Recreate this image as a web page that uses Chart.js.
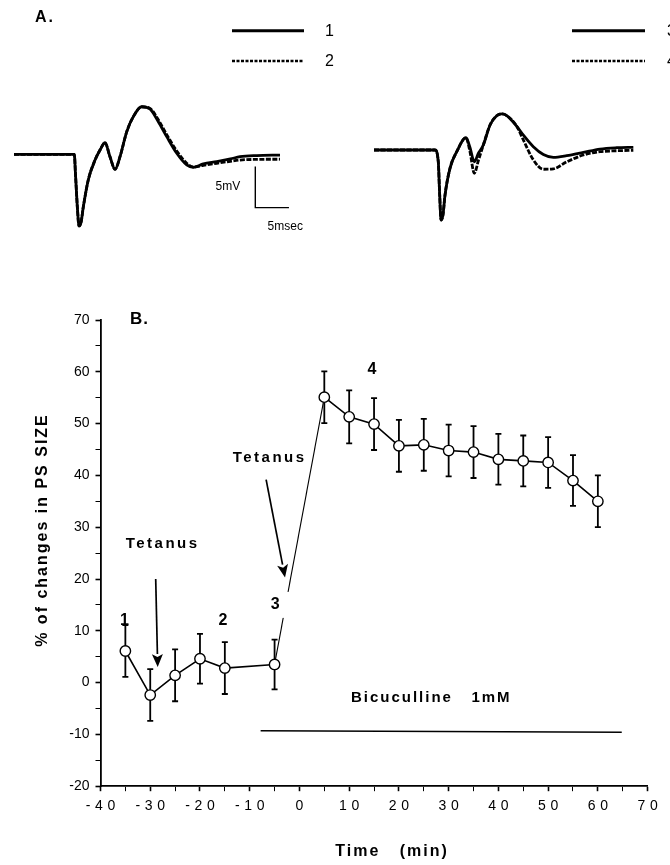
<!DOCTYPE html>
<html>
<head>
<meta charset="utf-8">
<title>PS size after tetanus</title>
<script src="https://cdn.jsdelivr.net/npm/chart.js@4.4.1/dist/chart.umd.min.js"></script>
<style>
  body { margin: 0; background: #fff; }
  #page { position: relative; width: 670px; height: 865px; overflow: hidden; background: #fff; }
  canvas { position: absolute; }
  #tracesLeft { left: 0; top: 0; }
  #tracesRight { left: 360px; top: 0; }
  #psChart { left: 0; top: 290px; }
</style>
</head>
<body>
<div id="page">
  <canvas id="psChart" width="670" height="575"></canvas>
  <canvas id="tracesLeft" width="335" height="260"></canvas>
  <canvas id="tracesRight" width="310" height="260"></canvas>
</div>
<script>
// ---- Panel B: % change in PS size over time ----
const timePoints = [-35, -30, -25, -20, -15, -5, 5, 10, 15, 20, 25, 30, 35, 40, 45, 50, 55, 60];
const psChange = [6.1, -2.4, 1.4, 4.6, 2.8, 3.5, 55.1, 51.3, 49.9, 45.7, 45.9, 44.8, 44.5, 43.1, 42.8, 42.5, 39.0, 35.0];
const psError = [5.0, 5.0, 5.0, 4.8, 5.0, 4.8, 5.0, 5.1, 5.0, 5.0, 5.0, 5.0, 5.0, 4.9, 4.9, 4.9, 4.9, 5.0];

// bicuculline application bar
const drugTimes = [-7.8, 64.8];
const drugLevel = [-9.3, -9.6];
const drugText = "Bicuculline   1mM";
const drugTextAt = [26.5, -3.0];

// sample numbers (traces in panel A) and tetanus markers
const sampleNames = ["1", "2", "3", "4"];
const sampleX = [-35.2, -15.4, -4.9, 14.6];
const sampleY = [11.9, 11.9, 15.0, 60.5];
const tetanusX = [-27.5, -6.0];
const tetanusY = [26.7, 43.3];
const arrowFrom = [[-28.9, 20.0], [-6.7, 39.2]];
const arrowTo = [[-28.5, 3.0], [-2.9, 20.3]];

const yTicks = [-20, -10, 0, 10, 20, 30, 40, 50, 60, 70];
const xTicks = [-40, -30, -20, -10, 0, 10, 20, 30, 40, 50, 60, 70];

// ---- Panel A: field potential traces (ms, mV) ----
const leftTimes = [0, 8.96, 9.14, 9.44, 9.66, 9.96, 10.3, 11.04, 12.04, 12.78, 13.52, 14.26, 15.01, 15.75, 16.75,
    17.73, 18.97, 20.2, 21.44, 22.69, 24.18, 25.66, 26.64, 28.13, 30.12, 32.15, 33.58, 36.06, 39.52];
const trace1 = [0, 0, -2.5, -6.8, -8.74, -8.3, -6.4, -3.1, -0.7, 0.52, 1.41, -0.29, -1.83, -0.29, 2.76,
    4.59, 5.8, 5.52, 3.98, 2.15, 0.12, -1.3, -1.59, -1.18, -0.9, -0.57, -0.29, -0.15, -0.1];
const trace2 = [0, 0, -2.5, -6.8, -8.74, -8.3, -6.4, -3.1, -0.7, 0.52, 1.41, -0.29, -1.83, -0.29, 2.76,
    4.59, 5.8, 5.6, 4.2, 2.4, 0.4, -1.1, -1.55, -1.35, -1.1, -0.85, -0.7, -0.62, -0.6];

const rightTimes = [0, 9.06, 9.55, 9.76, 9.96, 10.25, 10.55, 11.29, 12.29, 13.67, 14.26, 14.9, 15.53, 16.24, 17.24,
    18.23, 19.02, 19.72, 21.2, 22.2, 23.67, 25.16, 26.64, 28.63, 31.1, 33.58, 36.06, 38.53];
const trace3 = [0, 0, -1.43, -5.5, -8.54, -7.9, -5.5, -2.23, -0.21, 1.5, 0.3, -1.43, -0.37, 0.61, 3.05,
    4.18, 4.4, 4.2, 2.9, 1.8, 0.4, -0.55, -0.9, -0.7, -0.3, 0.12, 0.28, 0.33];
const trace4 = [0, 0, -1.43, -5.5, -8.54, -7.9, -5.5, -2.23, -0.21, 1.5, -0.21, -2.84, -1.22, 0.61, 3.05,
    4.18, 4.4, 4.2, 2.9, 1.2, -1.2, -2.35, -2.3, -1.45, -0.61, -0.21, -0.09, -0.04];

// calibration bar: 5 mV / 5 ms
const calibX = [35.85, 35.85, 40.85];
const calibY = [-1.5, -6.5, -6.5];

const FONT = '"Liberation Sans", Arial, Helvetica, sans-serif';
Chart.defaults.font.family = FONT;
Chart.defaults.color = "#000";

function toPoints(xs, ys) {
    return xs.map((x, i) => ({ x: x, y: ys[i] }));
}

function spaced(v) {
    return String(v).split("").join("\u2004");
}

// Draw a bit of text, optionally on a white patch
function drawText(ctx, text, x, y, font, spacing, patch) {
    ctx.font = font;
    ctx.letterSpacing = spacing || "0px";
    ctx.textAlign = "center";
    ctx.textBaseline = "middle";
    if (patch) {
        let w = ctx.measureText(text).width;
        ctx.fillStyle = "#fff";
        ctx.fillRect(x - w / 2 - patch[0], y - 9 - patch[1], w + patch[0] + patch[2], 18 + patch[1] + patch[3]);
    }
    ctx.fillStyle = "#000";
    ctx.fillText(text, x, y);
}

function drawArrow(ctx, x0, y0, x1, y1) {
    let ang = Math.atan2(y1 - y0, x1 - x0);
    let len = 13, half = 5.5;
    let bx = x1 - len * Math.cos(ang), by = y1 - len * Math.sin(ang);
    ctx.beginPath();
    ctx.moveTo(x0, y0);
    ctx.lineTo(bx, by);
    ctx.lineWidth = 1.7;
    ctx.stroke();
    ctx.beginPath();
    ctx.moveTo(x1, y1);
    ctx.lineTo(bx + half * Math.sin(ang), by - half * Math.cos(ang));
    ctx.lineTo(bx + 3 * Math.cos(ang), by + 3 * Math.sin(ang));
    ctx.lineTo(bx - half * Math.sin(ang), by + half * Math.cos(ang));
    ctx.closePath();
    ctx.fill();
}

// Error bars, labels, arrows and axis titles for panel B
const psDecor = {
    id: "psDecor",
    beforeDatasetsDraw(chart) {
        let ctx = chart.ctx, xs = chart.scales.x, ys = chart.scales.y;
        ctx.save();
        ctx.strokeStyle = "#000";
        ctx.lineWidth = 1.8;
        timePoints.forEach((t, i) => {
            let x = xs.getPixelForValue(t);
            let top = ys.getPixelForValue(psChange[i] + psError[i]);
            let bot = ys.getPixelForValue(psChange[i] - psError[i]);
            ctx.beginPath();
            ctx.moveTo(x, top); ctx.lineTo(x, bot);
            ctx.moveTo(x - 3, top); ctx.lineTo(x + 3, top);
            ctx.moveTo(x - 3, bot); ctx.lineTo(x + 3, bot);
            ctx.stroke();
        });
        ctx.restore();
    },
    afterDatasetsDraw(chart) {
        let ctx = chart.ctx, xs = chart.scales.x, ys = chart.scales.y;
        ctx.save();
        ctx.strokeStyle = "#000";
        ctx.fillStyle = "#000";
        arrowFrom.forEach((p, i) => {
            drawArrow(ctx, xs.getPixelForValue(p[0]), ys.getPixelForValue(p[1]),
                xs.getPixelForValue(arrowTo[i][0]), ys.getPixelForValue(arrowTo[i][1]));
        });
        tetanusX.forEach((t, i) => {
            drawText(ctx, "Tetanus", xs.getPixelForValue(t), ys.getPixelForValue(tetanusY[i]), "bold 15px " + FONT, "2.5px");
        });
        sampleNames.forEach((s, i) => {
            // "3" sits on the rising line, so it gets a white patch
            let patch = s === "3" ? [6, 4, 10, 4] : null;
            drawText(ctx, s, xs.getPixelForValue(sampleX[i]), ys.getPixelForValue(sampleY[i]), "bold 16px " + FONT, "0px", patch);
        });
        drawText(ctx, drugText, xs.getPixelForValue(drugTextAt[0]), ys.getPixelForValue(drugTextAt[1]), "bold 15px " + FONT, "2px");
        ctx.restore();
    },
    afterDraw(chart) {
        let ctx = chart.ctx;
        ctx.save();
        ctx.font = "bold 17px " + FONT;
        ctx.letterSpacing = "1px";
        ctx.textAlign = "left";
        ctx.textBaseline = "middle";
        ctx.fillStyle = "#000";
        ctx.fillText("B.", 130, 29);
        drawText(ctx, "Time   (min)", 392, 562, "bold 16px " + FONT, "2px");
        ctx.translate(43, 240);
        ctx.rotate(-Math.PI / 2);
        drawText(ctx, "% of changes in PS SIZE", 0, 0, "bold 16px " + FONT, "2px");
        ctx.restore();
    }
};

// Legend samples, heading and calibration text for panel A
const traceDecor = {
    id: "traceDecor",
    afterDraw(chart, args, opts) {
        let ctx = chart.ctx;
        ctx.save();
        ctx.strokeStyle = "#000";
        ctx.fillStyle = "#000";
        if (opts.heading) {
            ctx.font = "bold 16px " + FONT;
            ctx.letterSpacing = "2px";
            ctx.textAlign = "left";
            ctx.textBaseline = "middle";
            ctx.fillText(opts.heading, 35, 18);
        }
        opts.keys.forEach(k => {
            ctx.beginPath();
            ctx.setLineDash(k.dash);
            ctx.lineWidth = k.width;
            ctx.moveTo(opts.x0, k.y);
            ctx.lineTo(opts.x1, k.y);
            ctx.stroke();
            ctx.setLineDash([]);
            ctx.font = "16px " + FONT;
            ctx.letterSpacing = "0px";
            ctx.textAlign = "left";
            ctx.textBaseline = "middle";
            ctx.fillText(k.text, opts.textX, k.y + 1);
        });
        if (opts.calib) {
            let xs = chart.scales.x, ys = chart.scales.y;
            ctx.font = "12px " + FONT;
            ctx.textAlign = "right";
            ctx.fillText("5mV", xs.getPixelForValue(33.6), ys.getPixelForValue(-3.95));
            ctx.textAlign = "center";
            ctx.fillText("5msec", xs.getPixelForValue(40.3), ys.getPixelForValue(-8.85));
        }
        ctx.restore();
    }
};

function traceDataset(xs, ys, dash) {
    return {
        data: toPoints(xs, ys),
        borderColor: "#000",
        borderWidth: 2.8,
        borderDash: dash,
        pointRadius: 0,
        cubicInterpolationMode: "monotone",
        fill: false
    };
}

function traceOptions(padding, decor) {
    return {
        responsive: false,
        animation: false,
        devicePixelRatio: 1,
        layout: { padding: padding },
        scales: {
            x: { type: "linear", min: 0, max: 42, display: false },
            y: { type: "linear", min: -12, max: 10, display: false }
        },
        plugins: {
            legend: { display: false },
            tooltip: { enabled: false },
            traceDecor: decor
        }
    };
}

new Chart(document.getElementById("tracesLeft"), {
    type: "line",
    data: {
        datasets: [
            traceDataset(leftTimes, trace1, []),
            traceDataset(leftTimes, trace2, [5, 1.5]),
            {
                data: toPoints(calibX, calibY),
                borderColor: "#000",
                borderWidth: 1.4,
                pointRadius: 0,
                tension: 0
            }
        ]
    },
    options: traceOptions({ left: 14, right: 38.3, top: 72.3, bottom: 7.3 }, {
        heading: "A.",
        x0: 232, x1: 304, textX: 325,
        calib: true,
        keys: [
            { y: 30.7, dash: [], width: 3, text: "1" },
            { y: 61, dash: [3, 1.5], width: 2.5, text: "2" }
        ]
    }),
    plugins: [traceDecor]
});

new Chart(document.getElementById("tracesRight"), {
    type: "line",
    data: {
        datasets: [
            traceDataset(rightTimes, trace3, []),
            traceDataset(rightTimes, trace4, [5, 1.5])
        ]
    },
    options: traceOptions({ left: 14, right: 13.3, top: 68, bottom: 11.6 }, {
        x0: 212, x1: 285, textX: 307,
        keys: [
            { y: 30.7, dash: [], width: 3, text: "3" },
            { y: 61, dash: [3, 1.5], width: 2.5, text: "4" }
        ]
    }),
    plugins: [traceDecor]
});

new Chart(document.getElementById("psChart"), {
    type: "line",
    data: {
        datasets: [
            {
                data: toPoints(timePoints, psChange),
                borderColor: "#000",
                borderWidth: 1.6,
                pointRadius: 5.2,
                pointBackgroundColor: "#fff",
                pointBorderColor: "#000",
                pointBorderWidth: 1.4,
                tension: 0,
                // the jump after tetanus is drawn with a thinner stroke
                segment: { borderWidth: c => c.p0DataIndex === 5 ? 1.1 : 1.6 }
            },
            {
                data: toPoints(drugTimes, drugLevel),
                borderColor: "#000",
                borderWidth: 1.5,
                pointRadius: 0,
                tension: 0
            }
        ]
    },
    options: {
        responsive: false,
        animation: false,
        devicePixelRatio: 1,
        layout: { padding: { left: 0, top: 30, right: 22.4, bottom: 0 } },
        scales: {
            x: {
                type: "linear",
                min: -40,
                max: 70,
                afterFit: s => { s.height = 78.8; },
                border: { display: true, color: "#000", width: 1.8 },
                grid: {
                    drawOnChartArea: false,
                    drawTicks: true,
                    tickLength: 5,
                    color: "#000",
                    tickWidth: c => c.tick && c.tick.value % 10 === 0 ? 1.6 : 1
                },
                ticks: {
                    stepSize: 5,
                    autoSkip: false,
                    maxRotation: 0,
                    padding: 7,
                    font: { size: 14 },
                    callback: v => xTicks.includes(v) ? spaced(v) : ""
                }
            },
            y: {
                type: "linear",
                min: -20,
                max: 70,
                afterFit: s => { s.width = 100.5; },
                border: { display: true, color: "#000", width: 1.8 },
                grid: {
                    drawOnChartArea: false,
                    drawTicks: true,
                    tickLength: 5,
                    color: "#000",
                    tickWidth: c => c.tick && c.tick.value % 10 === 0 ? 1.6 : 1
                },
                ticks: {
                    stepSize: 5,
                    autoSkip: false,
                    padding: 6,
                    font: { size: 14 },
                    callback: v => yTicks.includes(v) ? String(v) : ""
                }
            }
        },
        plugins: {
            legend: { display: false },
            tooltip: { enabled: false }
        }
    },
    plugins: [psDecor]
});
</script>
</body>
</html>
